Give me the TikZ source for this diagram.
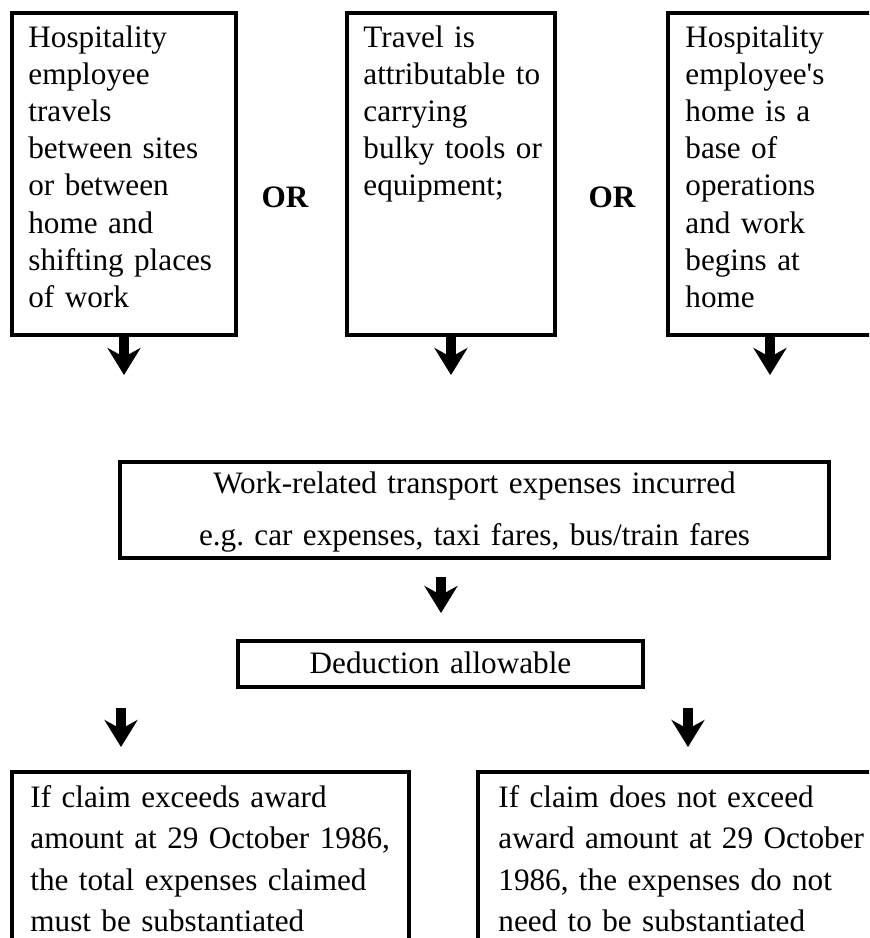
\documentclass[tikz,border=0pt]{standalone}
\usepackage{fontspec}
\setmainfont{Liberation Serif}
\usetikzlibrary{arrows.meta}
\frenchspacing

\begin{document}
\begin{tikzpicture}[x=0.5pt,y=-0.5pt]
	\def \toprow{13}
	\def \toptext{47}
	\def \arrowtop{375}
	\def \midrow{462}
	\def \dedrow{641}
	\def \lowrow{772}
	\def \lowtext{807}

	\tikzstyle{c-box}=[draw=black,line width=2pt,inner sep=0pt,outer sep=0pt,anchor=north west]
	\tikzstyle{c-text}=[inner sep=0pt,anchor=base west,align=left,text width=100pt,font=\fontsize{15.6pt}{18.6pt}\selectfont]
	\tikzstyle{l-text}=[c-text,text width=200pt,font=\fontsize{15.6pt}{20.75pt}\selectfont]
	\tikzstyle{m-text}=[inner sep=0pt,anchor=base,align=center,text width=350pt,font=\fontsize{15.6pt}{26pt}\selectfont]
	\tikzstyle{or-label}=[inner sep=0pt,anchor=base,font=\fontsize{15.6pt}{18pt}\selectfont\bfseries]
	\tikzstyle{down-arrow}=[-{Stealth[width=16.5pt,length=13.5pt,inset=4.5pt]},line width=5pt]

	\useasboundingbox (0,0) rectangle (869,938);
	\clip (0,0) rectangle (869,938);

	% conditions
	\node[c-box,minimum width=112pt,minimum height=161pt] (cond1) at (12,\toprow) {};
	\node[c-box,minimum width=104pt,minimum height=161pt] (cond2) at (347,\toprow) {};
	\node[c-box,minimum width=102pt,minimum height=161pt] (cond3) at (668,\toprow) {};
	\node[c-text] (ct1) at (28,\toptext) {Hospitality\\employee\\travels\\between sites\\or between\\home and\\shifting places\\of work};
	\node[c-text] (ct2) at (363,\toptext) {Travel is\\attributable to\\carrying\\bulky tools or\\equipment;};
	\node[c-text] (ct3) at (685,\toptext) {Hospitality\\employee\textquotesingle s\\home is a\\base of\\operations\\and work\\begins at\\home};
	\node[or-label] (or1) at (285,207) {OR};
	\node[or-label] (or2) at (612,207) {OR};

	\coordinate (e1) at (124,\arrowtop);
	\coordinate (e2) at (451,\arrowtop);
	\coordinate (e3) at (770,\arrowtop);

	% expenses and deduction
	\node[c-box,minimum width=354.5pt,minimum height=48pt] (exp) at (120,\midrow) {};
	\node[m-text] (exp-t) at (474.5,493) {Work-related transport expenses incurred\\e.g. car expenses, taxi fares, bus/train fares};
	\node[c-box,minimum width=202.5pt,minimum height=23pt] (ded) at (238,\dedrow) {};
	\node[m-text] (ded-t) at (440.5,673) {Deduction allowable};

	\coordinate (x1) at (441,577);
	\coordinate (x2) at (441,613);
	\coordinate (s1) at (121,708);
	\coordinate (t1) at (121,747);
	\coordinate (s2) at (688,708);
	\coordinate (t2) at (688,747);

	% substantiation
	\node[c-box,minimum width=198.5pt,minimum height=110pt] (sub1) at (12,\lowrow) {};
	\node[c-box,minimum width=206pt,minimum height=110pt] (sub2) at (478,\lowrow) {};
	\node[l-text] (st1) at (30,\lowtext) {If claim exceeds award\\amount at 29 October 1986,\\the total expenses claimed\\must be substantiated};
	\node[l-text] (st2) at (498,\lowtext) {If claim does not exceed\\award amount at 29 October\\1986, the expenses do not\\need to be substantiated};

	\draw[down-arrow] (cond1.south) -- (e1);
	\draw[down-arrow] (cond2.south) -- (e2);
	\draw[down-arrow] (cond3.south) -- (e3);
	\draw[down-arrow] (x1) -- (x2);
	\draw[down-arrow] (s1) -- (t1);
	\draw[down-arrow] (s2) -- (t2);
\end{tikzpicture}
\end{document}
